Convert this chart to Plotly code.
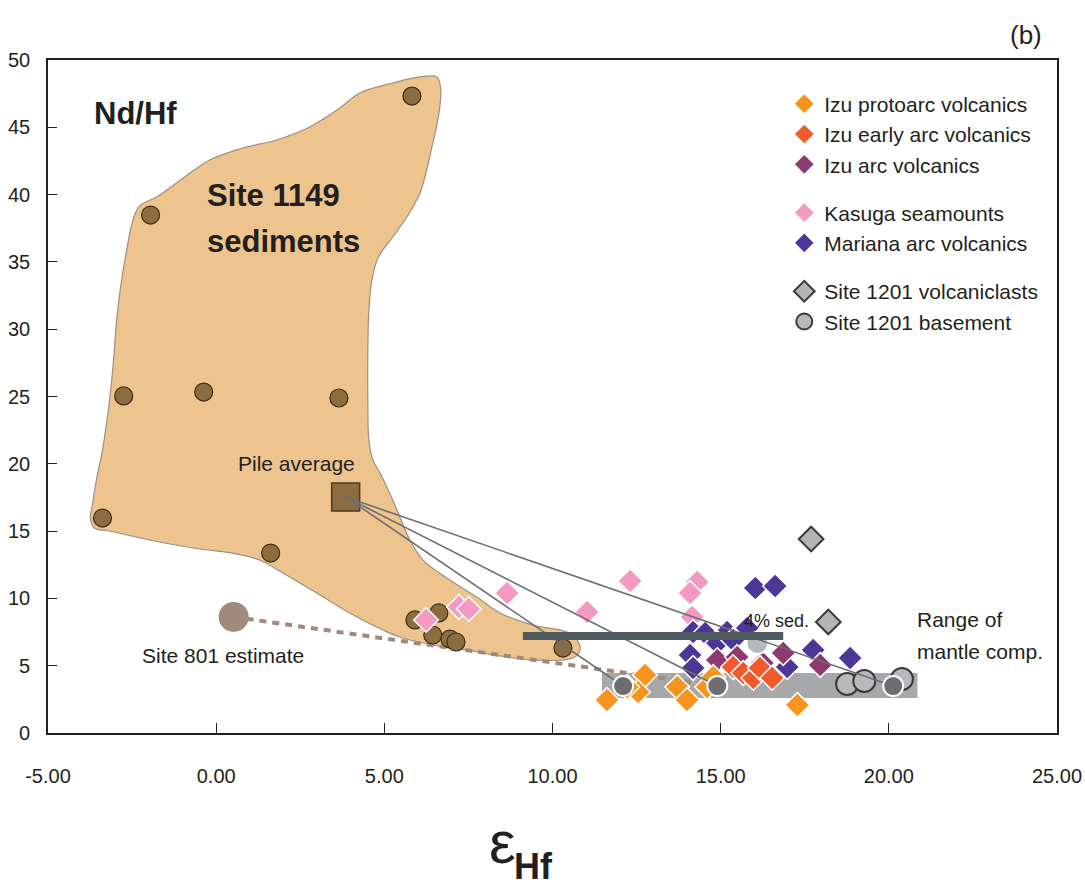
import plotly.graph_objects as go

# ---- Site 1149 sediment field outline (eps Hf, Nd/Hf) ----
field_x = [6.56, 6.68, 6.59, 6.44, 6.06, 5.61, 5.25, 4.81, 4.63, 4.54, 4.51, 4.51, 4.54, 4.66,
           4.87, 5.25, 5.46, 5.76, 6.15, 6.95, 7.75, 8.44, 9.42, 10.43, 10.73, 10.82, 10.61,
           9.42, 8.44, 7.46, 6.44, 5.46, 4.96, 3.97, 2.99, 1.98, 1.29, 0.49, -0.49, -1.98,
           -3.17, -3.62, -3.74, -3.68, -3.56, -3.38, -3.17, -3.05, -2.96, -2.81, -2.66, -2.49,
           -2.28, -1.77, -1.18, -0.19, 0.79, 1.80, 2.78, 3.68, 4.27, 5.25, 6.06, 6.56]
field_y = [48.74, 47.77, 45.54, 43.83, 40.12, 38.11, 36.85, 35.29, 33.66, 31.43, 28.45, 24.74,
           21.77, 20.28, 19.32, 17.31, 16.05, 14.34, 12.85, 11.37, 10.10, 8.92, 8.02, 7.50,
           6.91, 6.17, 5.57, 5.42, 5.72, 6.17, 6.54, 7.13, 7.65, 8.92, 10.40, 11.89, 12.85,
           13.37, 13.67, 14.34, 15.01, 15.23, 15.97, 16.94, 18.80, 21.03, 24.74, 27.71, 30.68,
           33.66, 35.88, 37.96, 39.15, 39.82, 40.86, 42.57, 43.46, 44.06, 45.02, 46.43, 47.55,
           48.29, 48.74, 48.74]

# ---- Site 1149 sediments ----
sed_x = [5.82, -1.95, -2.75, -0.37, 3.65, -3.38, 1.62, 5.91, 6.62, 6.44, 6.95, 7.13, 10.31]
sed_y = [47.32, 38.48, 25.04, 25.33, 24.89, 15.97, 13.37, 8.40, 8.92, 7.28, 6.98, 6.76, 6.31]

pile_x, pile_y = [3.85], [17.53]
s801_x, s801_y = [0.52], [8.62]

# ---- arc / seamount volcanics ----
kasuga_x = [6.24, 7.22, 7.51, 8.65, 11.03, 12.31, 14.30, 14.09, 14.15]
kasuga_y = [8.40, 9.36, 9.21, 10.40, 8.99, 11.29, 11.22, 10.40, 8.62]

mariana_x = [16.03, 16.62, 14.18, 14.54, 15.19, 15.79, 14.09, 14.90, 15.37, 14.18, 16.98, 17.75, 18.85]
mariana_y = [10.77, 10.92, 7.50, 7.43, 7.50, 7.80, 5.79, 6.69, 6.91, 4.83, 4.90, 6.17, 5.57]

izu_arc_x = [14.90, 15.49, 16.24, 16.86, 17.96]
izu_arc_y = [5.42, 5.65, 5.20, 5.94, 5.05]

izu_early_x = [15.37, 15.67, 15.97, 16.17, 16.53]
izu_early_y = [4.90, 4.46, 4.09, 4.83, 4.09]

izu_proto_x = [12.75, 11.62, 12.54, 12.22, 13.71, 14.00, 14.60, 14.78, 17.28]
izu_proto_y = [4.31, 2.45, 3.05, 3.42, 3.42, 2.45, 3.42, 4.16, 2.08]

# ---- Site 1201 ----
vclast_x = [17.69, 18.20]
vclast_y = [14.41, 8.25]

basement_x = [18.76, 19.27, 20.39]
basement_y = [3.64, 3.86, 4.01]
basement_mix_x, basement_mix_y = [16.09], [6.69]

# mixing end-members and mixing curves from the pile average
endmember_x = [12.10, 14.90, 20.13]
endmember_y = [3.49, 3.49, 3.49]

# mantle composition range and 4% sediment level
mantle_x = [11.47, 20.85]
mantle_y = [2.60, 4.46]
sed4_x = [9.12, 16.86]
sed4_y = [7.20, 7.20]

x_ticks = [-5, 0, 5, 10, 15, 20, 25]
x_ticktext = ["-5.00", "0.00", "5.00", "10.00", "15.00", "20.00", "25.00"]
y_ticks = [0, 5, 10, 15, 20, 25, 30, 35, 40, 45, 50]

TXT = "Liberation Sans, Arial, sans-serif"
INK = "#231F20"

fig = go.Figure()

# sediment field
fig.add_trace(go.Scatter(x=field_x, y=field_y, mode="lines", fill="toself",
                         fillcolor="#EDC48D", line=dict(color="#9E8E80", width=1.2, shape="spline"),
                         hoverinfo="skip", showlegend=False))

# mantle range band
fig.add_trace(go.Scatter(x=[mantle_x[0], mantle_x[1], mantle_x[1], mantle_x[0], mantle_x[0]],
                         y=[mantle_y[0], mantle_y[0], mantle_y[1], mantle_y[1], mantle_y[0]],
                         mode="lines", fill="toself", fillcolor="#A7A8AA",
                         line=dict(width=0), hoverinfo="skip", showlegend=False))

# Site 801 trend to mantle
fig.add_trace(go.Scatter(x=[s801_x[0], endmember_x[1]], y=[s801_y[0], endmember_y[1]],
                         mode="lines", line=dict(color="#A08A7C", width=4, dash="7px,6px"),
                         hoverinfo="skip", showlegend=False))

# sediments
fig.add_trace(go.Scatter(x=sed_x, y=sed_y, mode="markers",
                         marker=dict(symbol="circle", size=18, color="#8B6D3F",
                                     line=dict(color="#3D2B14", width=1.2)),
                         showlegend=False))
fig.add_trace(go.Scatter(x=pile_x, y=pile_y, mode="markers",
                         marker=dict(symbol="square", size=28, color="#8B6D3F",
                                     line=dict(color="#4A3A20", width=1.5)),
                         showlegend=False))
fig.add_trace(go.Scatter(x=s801_x, y=s801_y, mode="markers",
                         marker=dict(symbol="circle", size=30, color="#A08A7C"),
                         showlegend=False))

def diamonds(x, y, color, name, group, rank):
    return go.Scatter(x=x, y=y, mode="markers", name=name, legendgroup=group,
                      legendrank=rank,
                      marker=dict(symbol="diamond", size=19, color=color,
                                  line=dict(color="white", width=1.5)))

fig.add_trace(diamonds(kasuga_x, kasuga_y, "#F49AC2", "Kasuga seamounts", "seamount", 4))
fig.add_trace(diamonds(mariana_x, mariana_y, "#4B3797", "Mariana arc volcanics", "seamount", 5))
fig.add_trace(diamonds(izu_arc_x, izu_arc_y, "#8E3A6F", "Izu arc volcanics", "izu", 3))
fig.add_trace(diamonds(izu_early_x, izu_early_y, "#F15A2B", "Izu early arc volcanics", "izu", 2))
fig.add_trace(diamonds(izu_proto_x, izu_proto_y, "#F7941E", "Izu protoarc volcanics", "izu", 1))

fig.add_trace(go.Scatter(x=basement_mix_x, y=basement_mix_y, mode="markers",
                         marker=dict(symbol="circle", size=22, color="#B8B9BB",
                                     line=dict(color="white", width=2)),
                         showlegend=False))
fig.add_trace(go.Scatter(x=vclast_x, y=vclast_y, mode="markers", name="Site 1201 volcaniclasts",
                         legendgroup="site1201", legendrank=6,
                         marker=dict(symbol="diamond", size=19, color="#B3B4B6",
                                     line=dict(color="#3A3A3A", width=2))))
fig.add_trace(go.Scatter(x=basement_x, y=basement_y, mode="markers", name="Site 1201 basement",
                         legendgroup="site1201", legendrank=7,
                         marker=dict(symbol="circle", size=22, color="#B8B9BB",
                                     line=dict(color="#3A3A3A", width=2))))

# mixing curves
for ex, ey in zip(endmember_x, endmember_y):
    fig.add_trace(go.Scatter(x=[pile_x[0], ex], y=[pile_y[0], ey], mode="lines",
                             line=dict(color="#6D6E71", width=1.6),
                             hoverinfo="skip", showlegend=False))

# 4% sediment bar
fig.add_trace(go.Scatter(x=sed4_x, y=sed4_y, mode="lines",
                         line=dict(color="#4F5A60", width=8),
                         hoverinfo="skip", showlegend=False))

fig.add_trace(go.Scatter(x=endmember_x, y=endmember_y, mode="markers",
                         marker=dict(symbol="circle", size=20, color="#6D6E71",
                                     line=dict(color="white", width=2)),
                         showlegend=False))

annos = [
    dict(text="<b>Nd/Hf</b>", x=-3.68, y=46.06, xanchor="left", font=dict(size=31)),
    dict(text="<b>Site 1149</b>", x=-0.34, y=39.97, xanchor="left", font=dict(size=31)),
    dict(text="<b>sediments</b>", x=-0.34, y=36.55, xanchor="left", font=dict(size=31)),
    dict(text="Pile average", x=2.40, y=19.99, font=dict(size=21)),
    dict(text="Site 801 estimate", x=0.19, y=5.79, font=dict(size=21)),
    dict(text="4% sed.", x=16.65, y=8.32, font=dict(size=18)),
    dict(text="Range of", x=20.79, y=8.40, xanchor="left", font=dict(size=21)),
    dict(text="mantle comp.", x=20.79, y=6.02, xanchor="left", font=dict(size=21)),
]
for a in annos:
    a.setdefault("xanchor", "center")
    a["font"].update(family=TXT, color=INK)
    fig.add_annotation(xref="x", yref="y", yanchor="middle", showarrow=False, **a)

fig.add_annotation(xref="paper", yref="paper", x=0.9688, y=1.037, text="(b)",
                   showarrow=False, xanchor="center", yanchor="middle",
                   font=dict(family=TXT, size=26, color=INK))
fig.add_annotation(xref="paper", yref="paper", x=0.450, y=-0.163, text="ε",
                   showarrow=False, xanchor="center", yanchor="middle",
                   font=dict(family=TXT, size=60, color=INK))
fig.add_annotation(xref="paper", yref="paper", x=0.4816, y=-0.198, text="<b>Hf</b>",
                   showarrow=False, xanchor="center", yanchor="middle",
                   font=dict(family=TXT, size=36, color=INK))

fig.update_layout(
    width=1085, height=887,
    margin=dict(l=48, r=28, t=60, b=154, autoexpand=False),
    paper_bgcolor="white", plot_bgcolor="white",
    legend=dict(x=0.7297, y=0.965, xanchor="left", yanchor="top",
                traceorder="grouped", tracegroupgap=18, itemsizing="trace",
                font=dict(family=TXT, size=21, color=INK),
                bgcolor="rgba(0,0,0,0)"),
    showlegend=True,
)
fig.update_xaxes(range=[-5, 25], tickvals=x_ticks, ticktext=x_ticktext, automargin=False,
                 showgrid=False, zeroline=False, showline=True, linecolor=INK,
                 linewidth=1.6, mirror=True, ticks="inside", ticklen=10, tickwidth=1.2,
                 tickcolor=INK, ticklabelstandoff=24, ticklabeloverflow="allow",
                 tickfont=dict(family=TXT, size=20, color=INK))
fig.update_yaxes(range=[0, 50], tickvals=y_ticks, automargin=False,
                 showgrid=False, zeroline=False, showline=True, linecolor=INK,
                 linewidth=1.6, mirror=True, ticks="inside", ticklen=9, tickwidth=1.2,
                 tickcolor=INK, ticklabelstandoff=12,
                 tickfont=dict(family=TXT, size=20, color=INK))

fig.write_html("out.html")
